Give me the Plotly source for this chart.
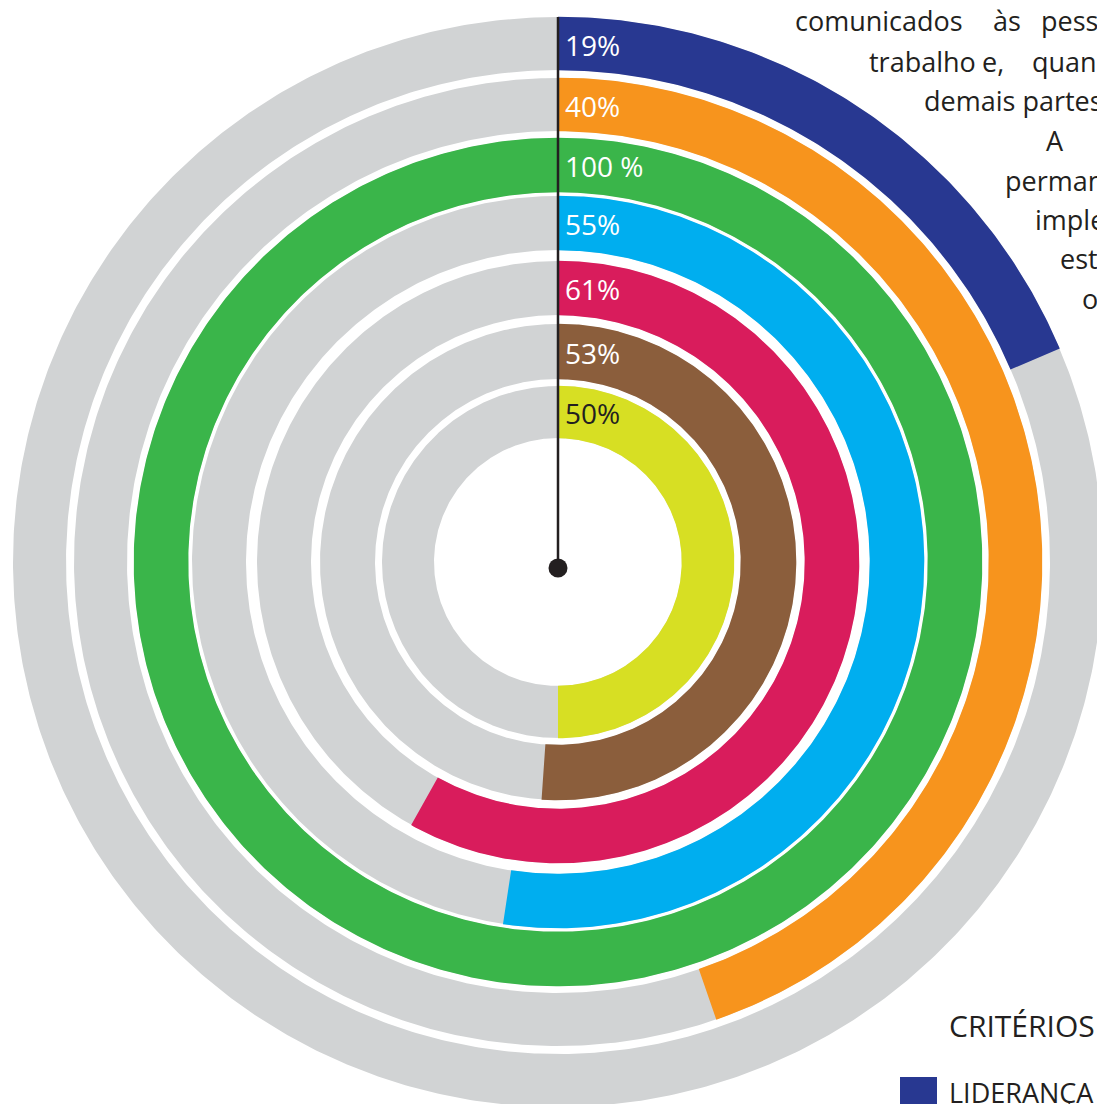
import numpy as np
import plotly.graph_objects as go

# ---- data ----
labels = ["19%", "40%", "100 %", "55%", "61%", "53%", "50%"]
arc_pct = [18.6, 44.7, 100, 52.4, 58.1, 51.1, 50]   # arc lengths as drawn (percent of full circle)
colors = ["#283891", "#F7941D", "#3AB54A", "#00AEEF", "#D91C5C", "#8B5E3C", "#D7DF23"]
label_colors = ["white", "white", "white", "white", "white", "white", "#231F20"]

body_lines = [
    [("comunicados", 793), ("às", 991), ("pess", 1039)],
    [("trabalho", 867), ("e,", 980), ("quan", 1030)],
    [("demais partes", 922)],
    [("A", 1044)],
    [("perman", 1003)],
    [("imple", 1033)],
    [("est", 1058)],
    [("o", 1080)],
]
body_y = [20, 61, 100, 140, 180, 219, 258, 298]

legend_title = "CRITÉRIOS"
legend_items = ["LIDERANÇA"]

# ---- layout constants (pixels) ----
W, H = 1097, 1104
CX, CY = 558, 562
outer_r = [545, 484, 424, 366, 301, 238, 176]
inner_r = [492, 431, 370, 312, 247, 183, 124]
TRACK = "#D1D3D4"
INK = "#231F20"


def annulus(r0, r1, frac, n=720):
    t = np.linspace(0, 2 * np.pi * frac, max(int(n * frac), 8))
    xo, yo = r1 * np.sin(t), r1 * np.cos(t)
    xi, yi = r0 * np.sin(t[::-1]), r0 * np.cos(t[::-1])
    x = np.concatenate([xo, xi, xo[:1]])
    y = np.concatenate([yo, yi, yo[:1]])
    return x, y


fig = go.Figure()

for i in range(len(labels)):
    x, y = annulus(inner_r[i], outer_r[i], 1.0)
    fig.add_trace(go.Scatter(x=x, y=y, mode="lines", fill="toself",
                             fillcolor=TRACK, line=dict(width=0), hoverinfo="skip"))
for i in range(len(labels)):
    x, y = annulus(inner_r[i] - 0.3, outer_r[i] + 0.3, arc_pct[i] / 100.0)
    fig.add_trace(go.Scatter(x=x, y=y, mode="lines", fill="toself",
                             fillcolor=colors[i], line=dict(width=0),
                             name=labels[i], hoverinfo="skip"))

# pointer line and dot
fig.add_trace(go.Scatter(x=[0, 0], y=[-6, outer_r[0]], mode="lines",
                         line=dict(color=INK, width=2.5), hoverinfo="skip"))
fig.add_trace(go.Scatter(x=[0], y=[-6], mode="markers",
                         marker=dict(color=INK, size=19), hoverinfo="skip"))

ann = []
for i, lab in enumerate(labels):
    ann.append(dict(x=5, y=(outer_r[i] + inner_r[i]) / 2 - 1, text=lab, showarrow=False,
                    xanchor="left", yanchor="middle", xref="x", yref="y",
                    font=dict(family="Open Sans", size=28, color=label_colors[i])))

for line, py in zip(body_lines, body_y):
    for word, px in line:
        ann.append(dict(x=px - CX, y=CY - py, text=word, showarrow=False,
                        xanchor="left", yanchor="middle", xref="x", yref="y",
                        font=dict(family="Open Sans", size=27, color=INK)))

ann.append(dict(x=947 - CX, y=CY - 1025, text=legend_title, showarrow=False,
                xanchor="left", yanchor="middle", xref="x", yref="y",
                font=dict(family="Open Sans", size=30, color=INK)))
ann.append(dict(x=947 - CX, y=CY - 1092, text=legend_items[0], showarrow=False,
                xanchor="left", yanchor="middle", xref="x", yref="y",
                font=dict(family="Open Sans", size=27, color=INK)))

fig.add_shape(type="rect", xref="x", yref="y",
              x0=900 - CX, x1=937 - CX, y0=CY - 1077, y1=CY - 1110,
              fillcolor=colors[0], line=dict(width=0))

fig.update_layout(
    width=W, height=H, margin=dict(l=0, r=0, t=0, b=0),
    paper_bgcolor="white", plot_bgcolor="white", showlegend=False,
    hovermode=False,
    xaxis=dict(range=[-CX, W - CX], visible=False, fixedrange=True),
    yaxis=dict(range=[CY - H, CY], visible=False, fixedrange=True),
    annotations=ann,
)

fig.write_html(
    "out.html",
    config={"displayModeBar": False, "staticPlot": True},
    post_script="document.body.style.margin='0';document.body.style.overflow='hidden';",
)
